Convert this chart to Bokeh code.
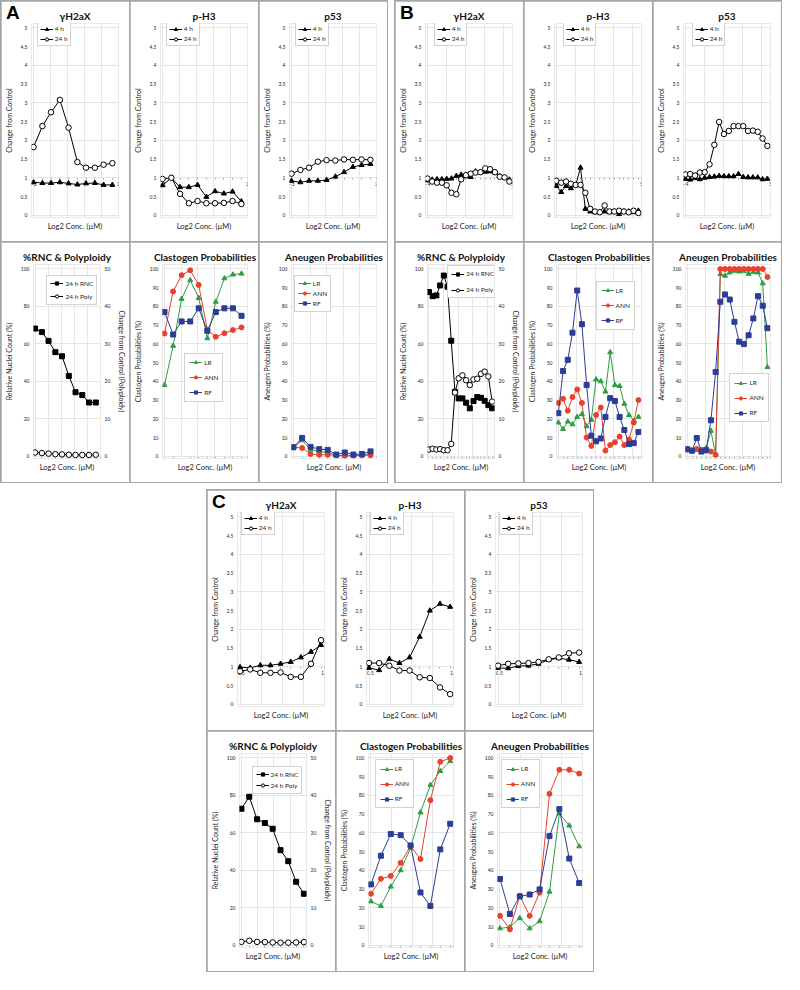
from bokeh.plotting import figure
from bokeh.models import (Range1d, LinearAxis, FixedTicker, NumeralTickFormatter,
                          Legend, LegendItem, Title, Spacer, Div)
from bokeh.layouts import row, column
from bokeh.embed import file_html
from bokeh.resources import INLINE

# ---------------- data ----------------
xA = [-3.0, -2.48, -1.97, -1.45, -0.94, -0.42, 0.09, 0.61, 1.12, 1.64]
A_gh2ax_4h = [0.88, 0.86, 0.86, 0.88, 0.85, 0.82, 0.85, 0.86, 0.81, 0.81]
A_gh2ax_24h = [1.82, 2.38, 2.75, 3.08, 2.34, 1.42, 1.27, 1.27, 1.35, 1.39]
A_ph3_4h = [0.80, 1.00, 0.75, 0.75, 0.81, 0.49, 0.64, 0.58, 0.63, 0.37]
A_ph3_24h = [0.97, 1.00, 0.57, 0.32, 0.38, 0.32, 0.32, 0.33, 0.38, 0.30]
A_p53_4h = [0.92, 0.88, 0.92, 0.92, 0.94, 1.03, 1.15, 1.29, 1.34, 1.37]
A_p53_24h = [1.11, 1.21, 1.27, 1.43, 1.47, 1.46, 1.49, 1.48, 1.49, 1.48]
A_rnc = [68.2, 66.3, 61.6, 55.6, 53.4, 42.9, 34.2, 32.7, 28.7, 28.7]
A_poly = [1.0, 0.85, 0.7, 0.55, 0.5, 0.4, 0.35, 0.35, 0.35, 0.4]
A_clast_LR = [38, 59, 84, 94, 84.5, 63, 82.5, 95, 97, 97.5]
A_clast_ANN = [65.5, 88, 96.7, 99.3, 91.5, 67.5, 63.8, 65.7, 67.4, 68.8]
A_clast_RF = [77, 65, 72, 72, 79, 67, 77, 79, 79, 75]
A_aneu_LR = [4.8, 8.5, 3.5, 2.5, 2.0, 0.4, 0.3, 0.3, 0.5, 1.5]
A_aneu_ANN = [4.8, 4.4, 1.2, 0.8, 0.8, 0.5, 0.3, 0.3, 0.5, 0.5]
A_aneu_RF = [4.8, 9.8, 5.0, 3.8, 3.4, 0.9, 2.0, 0.9, 1.2, 2.6]

xB = [-4.0, -3.49, -2.98, -2.47, -1.96, -1.45, -0.94, -0.43, 0.08, 0.59,
      1.10, 1.61, 2.12, 2.63, 3.14, 3.65, 4.16, 4.67]
B_gh2ax_4h = [0.93, 0.95, 0.96, 0.96, 0.97, 0.98, 1.05, 1.08, 1.04, 1.02,
              1.17, 1.15, 1.16, 1.17, 1.14, 1.04, 1.00, 0.95]
B_gh2ax_24h = [0.98, 0.90, 0.87, 0.87, 0.80, 0.60, 0.56, 0.96, 1.07, 1.11,
               1.14, 1.15, 1.25, 1.23, 1.15, 1.03, 1.01, 0.90]
B_ph3_4h = [0.78, 0.62, 0.78, 0.72, 0.80, 1.27, 0.17, 0.10, 0.08, 0.08,
            0.10, 0.08, 0.10, 0.03, 0.10, 0.10, 0.08, 0.12]
B_ph3_24h = [0.92, 0.87, 0.90, 0.84, 0.81, 0.81, 0.60, 0.17, 0.10, 0.08,
             0.26, 0.10, 0.10, 0.12, 0.10, 0.08, 0.12, 0.06]
B_p53_4h = [0.97, 0.95, 0.99, 0.96, 1.00, 1.02, 1.03, 1.05, 1.04, 1.04,
            1.04, 1.10, 1.02, 1.01, 1.01, 1.01, 0.96, 0.97]
B_p53_24h = [1.09, 1.10, 1.06, 1.14, 1.15, 1.36, 1.88, 2.49, 2.17, 2.25,
             2.38, 2.38, 2.38, 2.25, 2.26, 2.23, 2.05, 1.85]
B_rnc = [87.7, 85.5, 85.9, 91.2, 96.5, 90.5, 61.7, 34.4, 30.9, 30.9,
         28.6, 25.6, 29.5, 31.6, 31.2, 29.6, 27.3, 25.6]
B_poly = [1.8, 2.0, 1.8, 1.9, 1.6, 1.6, 3.3, 17.0, 20.8, 21.6,
          20.3, 19.0, 20.5, 20.7, 22.0, 22.6, 21.3, 14.6]
B_clast_LR = [18, 14.5, 18.5, 17, 21, 22.5, 16, 19.5, 41, 40,
              34.5, 55.5, 38, 37.5, 28, 22, 19, 21]
B_clast_ANN = [28.5, 30.7, 24.3, 31.6, 35.7, 28.5, 10, 5.5, 22, 26,
               3, 6, 7.5, 10.5, 6, 9, 18, 30]
B_clast_RF = [23, 45.5, 51.5, 66, 88.5, 70.5, 38, 11, 8, 9.5,
              21, 31, 29.5, 21, 14, 6.5, 7, 13]
B_aneu_LR = [3.7, 3.0, 3.4, 3.4, 4.2, 13.6, 0.7, 97.3, 96.4, 98.1,
             99.0, 98.6, 99.0, 97.4, 98.3, 98.1, 92.3, 47.6]
B_aneu_ANN = [3.7, 3.0, 3.9, 3.4, 3.0, 2.5, 0.8, 100, 100, 100,
              100, 100, 100, 100, 100, 100, 100, 95.7]
B_aneu_RF = [3.7, 3.0, 9.7, 2.5, 3.4, 19.2, 45, 82.5, 86.4, 83.7,
             71.8, 61.2, 59.9, 64.6, 73.6, 85.5, 80.4, 68.4]

xC = [-0.5, -0.26, -0.02, 0.22, 0.46, 0.70, 0.94, 1.18, 1.42]
C_gh2ax_4h = [0.99, 0.97, 1.04, 1.04, 1.08, 1.13, 1.25, 1.40, 1.58]
C_gh2ax_24h = [0.88, 0.93, 0.84, 0.84, 0.85, 0.73, 0.73, 1.08, 1.71]
C_ph3_4h = [0.97, 0.91, 1.21, 1.10, 1.25, 1.80, 2.50, 2.68, 2.60]
C_ph3_24h = [1.10, 1.10, 1.03, 0.90, 0.90, 0.72, 0.70, 0.45, 0.27]
C_p53_4h = [0.97, 0.96, 1.02, 1.03, 1.08, 1.19, 1.23, 1.19, 1.13]
C_p53_24h = [1.03, 1.08, 1.09, 1.10, 1.13, 1.20, 1.25, 1.36, 1.38]
C_rnc = [72.9, 79.3, 67.3, 65.3, 62.2, 50.8, 44.9, 33.9, 27.5]
C_poly = [0.9, 1.2, 0.9, 0.85, 0.75, 0.7, 0.7, 0.75, 0.85]
C_clast_LR = [23.4, 21, 31.3, 40, 52, 70.9, 85.6, 93, 98.3]
C_clast_ANN = [27.5, 35.5, 37, 44, 53, 46, 77.5, 98, 100]
C_clast_RF = [32.5, 47.8, 59.4, 58.8, 53.3, 28.2, 21, 51.2, 64.9]
C_aneu_LR = [9, 9.7, 14.5, 9, 12.8, 28.6, 70.4, 63.9, 52.8]
C_aneu_ANN = [15.7, 8.5, 26.4, 15.7, 28.1, 80.9, 93.7, 93.7, 91.7]
C_aneu_RF = [35.4, 16.7, 26.1, 27.1, 29.8, 58.3, 72.7, 46.3, 33.2]

change_ticks = [0, 0.5, 1, 1.5, 2, 2.5, 3, 3.5, 4, 4.5, 5]
pct_ticks_20 = [0, 20, 40, 60, 80, 100]
poly_ticks = [0, 10, 20, 30, 40, 50]
prob_ticks = [0, 10, 20, 30, 40, 50, 60, 70, 80, 90, 100]
xticks_A = [-3, 2]
xticks_B = [-4, 5]
xticks_C = [-0.5, 1.5]

titles = ["\u03b3H2aX", "p-H3", "p53", "%RNC & Polyploidy",
          "Clastogen Probabilities", "Aneugen Probabilities"]
panel_letters = ["A", "B", "C"]

# ---------------- style ----------------
FONT = "Lato"
CW, CH = 128, 240
FL, FT, FB = 30, 22, 24
GRAY = "#a6a6a6"
TXT = "#262626"
SX, SY = 128 / 132.5, 240 / 247
C_LR, C_ANN, C_RF = "#2e9e44", "#e8412c", "#2c3d96"


def new_fig(title, xr, yr, right=11):
    p = figure(width=CW, height=CH, x_range=Range1d(*xr), y_range=Range1d(*yr),
               output_backend="svg", toolbar_location=None,
               x_axis_location=None, y_axis_location=None,
               min_border_left=FL, min_border_right=right,
               min_border_top=FT, min_border_bottom=FB,
               background_fill_color="white", border_fill_color="white",
               outline_line_color=None)
    p.title.text = title
    p.title.align = "center"
    p.title.text_font = FONT
    p.title.text_font_size = "10px"
    p.title.text_font_style = "bold"
    p.title.text_color = "#111111"
    p.title.standoff = 4
    p.title.offset = -6
    return p


def yaxis(p, ticks, label, side="left", rng="default"):
    ax = LinearAxis(y_range_name=rng, ticker=FixedTicker(ticks=ticks),
                    formatter=NumeralTickFormatter(format="0.[0]"),
                    axis_label=label, axis_line_color=None,
                    major_tick_line_color=None, minor_tick_line_color=None,
                    major_tick_in=0, major_tick_out=0, minor_tick_in=0, minor_tick_out=0,
                    major_label_text_font=FONT, major_label_text_font_size="5px",
                    major_label_text_color=TXT, major_label_standoff=4,
                    axis_label_text_font=FONT, axis_label_text_font_size="7px",
                    axis_label_text_font_style="normal", axis_label_text_color=TXT,
                    axis_label_standoff=5)
    p.add_layout(ax, side)


def xaxis(p, ticks, minor, loc):
    ax = LinearAxis(ticker=FixedTicker(ticks=ticks, minor_ticks=minor), fixed_location=loc,
                    axis_line_color=GRAY, major_tick_line_color=GRAY,
                    minor_tick_line_color=GRAY, major_tick_in=0, major_tick_out=2,
                    minor_tick_in=0, minor_tick_out=2,
                    major_label_text_font=FONT, major_label_text_font_size="5px",
                    major_label_standoff=2, major_label_text_color=TXT)
    ax.level = "underlay"
    p.add_layout(ax, "below")


def finish(p):
    p.add_layout(Title(text="Log2 Conc. (\u00b5M)", align="center", text_font=FONT,
                       text_font_size="7.5px", text_font_style="normal",
                       text_color=TXT, standoff=4, offset=-4), "below")


def add_legend(p, items, rx, ry, padding, spacing, label_h=9, glyph_w=13):
    n = len(items)
    h = 2 * padding + n * label_h + (n - 1) * spacing
    lx, ly = rx * SX, ry * SY
    vx = lx - FL
    vy = (CH - FB) - (ly + h)
    lg = Legend(items=items, location=(vx, vy), border_line_color=GRAY,
                border_line_width=1, label_text_font=FONT,
                label_text_font_size="6.5px", label_text_color=TXT,
                glyph_width=glyph_w, glyph_height=8, label_height=label_h,
                label_width=4, label_standoff=2, padding=padding,
                spacing=spacing, margin=0,
                background_fill_color="white", background_fill_alpha=1)
    p.add_layout(lg)


def change_cell(title, x, s4, s24, xr, xt, leg_x=37):
    p = new_fig(title, xr, (-0.06, 5.12))
    yaxis(p, change_ticks, "Change from Control")
    xaxis(p, xt, x, 1)
    l4 = p.line(x, s4, line_color="black", line_width=1)
    m4 = p.scatter(x, s4, marker="triangle", size=5, fill_color="black", line_color="black")
    l24 = p.line(x, s24, line_color="black", line_width=1)
    m24 = p.scatter(x, s24, marker="circle", size=5.5, fill_color="white",
                    line_color="black", line_width=1)
    add_legend(p, [LegendItem(label="4 h", renderers=[l4, m4]),
                   LegendItem(label="24 h", renderers=[l24, m24])],
               leg_x, 23, padding=2, spacing=1)
    finish(p)
    return p


def rnc_cell(title, x, rnc, poly, xr, xt, leg, pad, sp):
    p = new_fig(title, xr, (-1.2, 102.4), right=28)
    p.extra_y_ranges = {"poly": Range1d(-0.6, 51.2)}
    yaxis(p, pct_ticks_20, "Relative Nuclei Count (%)")
    yaxis(p, poly_ticks, "Change from Control (Polyploidy)", side="right", rng="poly")
    xaxis(p, xt, x, 0)
    l1 = p.line(x, rnc, line_color="black", line_width=1)
    m1 = p.scatter(x, rnc, marker="square", size=5, fill_color="black", line_color="black")
    l2 = p.line(x, poly, line_color="black", line_width=1, y_range_name="poly")
    m2 = p.scatter(x, poly, marker="circle", size=5.5, fill_color="white",
                   line_color="black", y_range_name="poly")
    add_legend(p, [LegendItem(label="24 h RNC", renderers=[l1, m1]),
                   LegendItem(label="24 h Poly", renderers=[l2, m2])],
               leg[0], leg[1], padding=pad, spacing=sp)
    finish(p)
    return p


def prob_cell(title, ylabel, x, lr, ann, rf, xr, xt, leg, pad, sp):
    p = new_fig(title, xr, (-1.2, 102.4))
    yaxis(p, prob_ticks, ylabel)
    xaxis(p, xt, x, 0)
    items = []
    for name, ys, col, mk in (("LR", lr, C_LR, "triangle"), ("ANN", ann, C_ANN, "circle"),
                              ("RF", rf, C_RF, "square")):
        l = p.line(x, ys, line_color=col, line_width=1)
        m = p.scatter(x, ys, marker=mk, size=5, fill_color=col, line_color=col)
        items.append(LegendItem(label=name, renderers=[l, m]))
    add_legend(p, items, leg[0], leg[1], padding=pad, spacing=sp)
    finish(p)
    return p


def panel(letter, cells):
    tag = Div(text=letter, width=20, height=24,
              styles={"position": "absolute", "left": "1px", "top": "-2px",
                      "z-index": "10", "font-family": "Liberation Sans",
                      "font-size": "19px", "font-weight": "bold",
                      "color": "black", "line-height": "1"})
    r1 = row(cells[:3], spacing=1)
    r2 = row(cells[3:], spacing=1)
    return column(tag, r1, r2, spacing=1,
                  styles={"background-color": GRAY, "padding": "1px",
                          "position": "relative"})


xrA, xrB, xrC = (-3.12, 2.0), (-4.2, 5.0), (-0.56, 1.5)

cellsA = [
    change_cell(titles[0], xA, A_gh2ax_4h, A_gh2ax_24h, xrA, xticks_A),
    change_cell(titles[1], xA, A_ph3_4h, A_ph3_24h, xrA, xticks_A),
    change_cell(titles[2], xA, A_p53_4h, A_p53_24h, xrA, xticks_A),
    rnc_cell(titles[3], xA, A_rnc, A_poly, xrA, xticks_A, (45, 36), 3, 4),
    prob_cell(titles[4], "Clastogen Probabilities (%)", xA, A_clast_LR, A_clast_ANN,
              A_clast_RF, xrA, xticks_A, (54, 116), 4, 6),
    prob_cell(titles[5], "Aneugen Probabilities (%)", xA, A_aneu_LR, A_aneu_ANN,
              A_aneu_RF, xrA, xticks_A, (34, 36), 3, 1),
]
cellsB = [
    change_cell(titles[0], xB, B_gh2ax_4h, B_gh2ax_24h, xrB, xticks_B, leg_x=40),
    change_cell(titles[1], xB, B_ph3_4h, B_ph3_24h, xrB, xticks_B, leg_x=40),
    change_cell(titles[2], xB, B_p53_4h, B_p53_24h, xrB, xticks_B, leg_x=40),
    rnc_cell(titles[3], xB, B_rnc, B_poly, xrB, xticks_B, (52, 26), 3, 7),
    prob_cell(titles[4], "Clastogen Probabilities (%)", xB, B_clast_LR, B_clast_ANN,
              B_clast_RF, xrB, xticks_B, (72, 42), 4, 6),
    prob_cell(titles[5], "Aneugen Probabilities (%)", xB, B_aneu_LR, B_aneu_ANN,
              B_aneu_RF, xrB, xticks_B, (77, 137), 4, 6),
]
cellsC = [
    change_cell(titles[0], xC, C_gh2ax_4h, C_gh2ax_24h, xrC, xticks_C, leg_x=35),
    change_cell(titles[1], xC, C_ph3_4h, C_ph3_24h, xrC, xticks_C, leg_x=35),
    change_cell(titles[2], xC, C_p53_4h, C_p53_24h, xrC, xticks_C, leg_x=35),
    rnc_cell(titles[3], xC, C_rnc, C_poly, xrC, xticks_C, (44, 38), 3, 2),
    prob_cell(titles[4], "Clastogen Probabilities (%)", xC, C_clast_LR, C_clast_ANN,
              C_clast_RF, xrC, xticks_C, (38, 31), 4, 6),
    prob_cell(titles[5], "Aneugen Probabilities (%)", xC, C_aneu_LR, C_aneu_ANN,
              C_aneu_RF, xrC, xticks_C, (35, 31), 4, 6),
]

top = row(panel(panel_letters[0], cellsA), panel(panel_letters[1], cellsB), spacing=6)
bottom = row(Spacer(width=206, height=10), panel(panel_letters[2], cellsC))
root = column(top, bottom, spacing=6)

open("out.html", "w").write(file_html(root, INLINE))
